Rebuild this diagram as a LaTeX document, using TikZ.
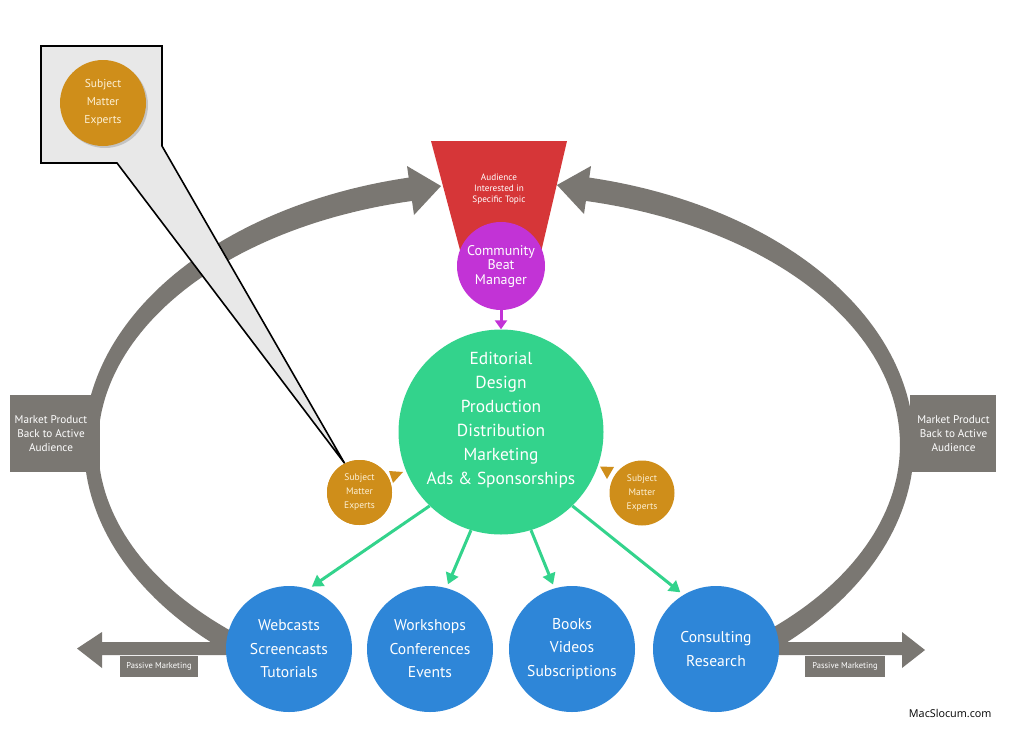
\documentclass[tikz,border=0pt]{standalone}
\usepackage{fontspec}
\setmainfont{PT Sans}
\newfontfamily\webfont{Open Sans}
\usetikzlibrary{shadows,arrows.meta}
\definecolor{arcgray}{HTML}{7A7772}
\definecolor{funred}{HTML}{D63638}
\definecolor{cbmpurple}{HTML}{C233D6}
\definecolor{edgreen}{HTML}{33D38C}
\definecolor{outblue}{HTML}{2E86D8}
\definecolor{smegold}{HTML}{CF8E1A}
\definecolor{smetext}{HTML}{FDF1D6}
\definecolor{calloutfill}{HTML}{E8E8E8}
\begin{document}
\begin{tikzpicture}[x=1pt,y=-1pt,
  bluec/.style={circle, fill=outblue, minimum size=126pt, inner sep=0pt, text=white, align=center, font=\fontsize{15.6}{23.5}\selectfont},
  smec/.style={circle, fill=smegold, minimum size=65pt, inner sep=0pt, text=smetext, align=center, font=\fontsize{9.5}{14}\selectfont},
  smebig/.style={circle, fill=smegold, minimum size=86pt, inner sep=0pt, text=smetext, align=center, font=\fontsize{11.5}{18}\selectfont, drop shadow={opacity=0.35, shadow xshift=2pt, shadow yshift=-2pt}},
  sidebox/.style={rectangle, fill=arcgray, minimum height=77pt, inner sep=0pt},
  sidetext/.style={text=white, align=center, font=\fontsize{11.2}{14}\selectfont},
  pmbox/.style={rectangle, fill=arcgray, minimum height=21pt, inner sep=0pt, text=white, font=\fontsize{8.5}{10}\selectfont},
  garrow/.style={draw=edgreen, line width=3pt, -{Triangle[length=11pt,width=13pt]}, shorten >=4pt},
  parrow/.style={draw=cbmpurple, line width=3pt, -{Triangle[length=9pt,width=12pt]}},
  callout/.style={fill=calloutfill, draw=black, line width=1.6pt}
]
\useasboundingbox (0,0) rectangle (1015,734);
\fill[white] (0,0) rectangle (1015,734);

% big gray loop, left half
\fill[arcgray] plot[domain=130:259, samples=90] ({499+415*cos(\x)},{445+274*sin(\x)})
  -- plot[domain=259:130, samples=90] ({499+401*cos(\x)},{445+250*sin(\x)}) -- cycle;
\fill[arcgray] (407,166) -- (441,186) -- (414,215) -- cycle;
% right half
\fill[arcgray] plot[domain=281:410, samples=90] ({499+415*cos(\x)},{445+274*sin(\x)})
  -- plot[domain=410:281, samples=90] ({499+401*cos(\x)},{445+250*sin(\x)}) -- cycle;
\fill[arcgray] (591,166) -- (557,185) -- (584,214) -- cycle;

% passive marketing arrows
\fill[arcgray] (245,642) -- (102,642) -- (102,632) -- (77,648.5) -- (102,668) -- (102,655) -- (245,655) -- cycle;
\fill[arcgray] (755,642) -- (902,642) -- (902,632) -- (925,650) -- (902,668) -- (902,655) -- (755,655) -- cycle;
\node[pmbox, minimum width=78pt] (pmL) at (159,666.5) {Passive Marketing};
\node[pmbox, minimum width=80pt] (pmR) at (845,666.5) {Passive Marketing};

% side boxes
\node[sidebox, minimum width=90pt] (sideL) at (55,433.5) {};
\node[sidetext] (sideLtext) at (51,433.5) {Market Product\\Back to Active\\Audience};
\node[sidebox, minimum width=86pt] (sideR) at (953,433.5) {};
\node[sidetext] (sideRtext) at (953.5,433.5) {Market Product\\Back to Active\\Audience};

% funnel
\fill[funred] (431,141) -- (567,141) -- (538,265) -- (464,265) -- cycle;
\node[text=white, align=center, font=\fontsize{9.2}{11}\selectfont] (funnel) at (499,189) {Audience\\Interested in\\Specific Topic};

% main circles
\node[circle, fill=edgreen, minimum size=205pt, inner sep=0pt] (green) at (501,432) {};
\node[text=white, align=center, font=\fontsize{17.4}{24}\selectfont] (greentext) at (501,420)
  {Editorial\\Design\\Production\\Distribution\\Marketing\\Ads \& Sponsorships};
\node[circle, fill=cbmpurple, minimum size=88pt, inner sep=0pt, text=white, align=center, font=\fontsize{14}{14.5}\selectfont] (cbm) at (501,266) {Community\\Beat\\Manager};
\draw[parrow] (cbm.south) -- (green.north);

% output circles
\node[bluec] (web) at (289,649) {Webcasts\\Screencasts\\Tutorials};
\node[bluec] (work) at (430,649) {Workshops\\Conferences\\Events};
\node[bluec] (books) at (572,649) {Books\\Videos\\Subscriptions};
\node[bluec] (cons) at (716,649) {Consulting\\Research};

\draw[garrow] (green.226.6) -- (web.72.6);
\draw[garrow] (green.-107) -- (work.75.6);
\draw[garrow] (green.-73) -- (books.106.6);
\draw[garrow] (green.-46) -- (cons.121);

% callout
\node[smec] (smeL) at (359.5,492.5) {Subject\\Matter\\Experts};
\draw[callout] (41,46) -- (162,46) -- (162,146) -- (smeL.117) -- (117,163) -- (41,163) -- cycle;
\node[smec] at (smeL) {Subject\\Matter\\Experts};
\node[smebig] (smeC) at (103,103) {Subject\\Matter\\Experts};

\node[smec] (smeR) at (642,493) {Subject\\Matter\\Experts};
\fill[smegold] (389,471) -- (403,472) -- (393,483) -- cycle;
\fill[smegold] (600,466.5) -- (614,467) -- (607,479) -- cycle;

\node[anchor=east, font=\webfont\fontsize{10.8}{12}\selectfont] (credit) at (995,713) {MacSlocum.com};
\end{tikzpicture}
\end{document}
